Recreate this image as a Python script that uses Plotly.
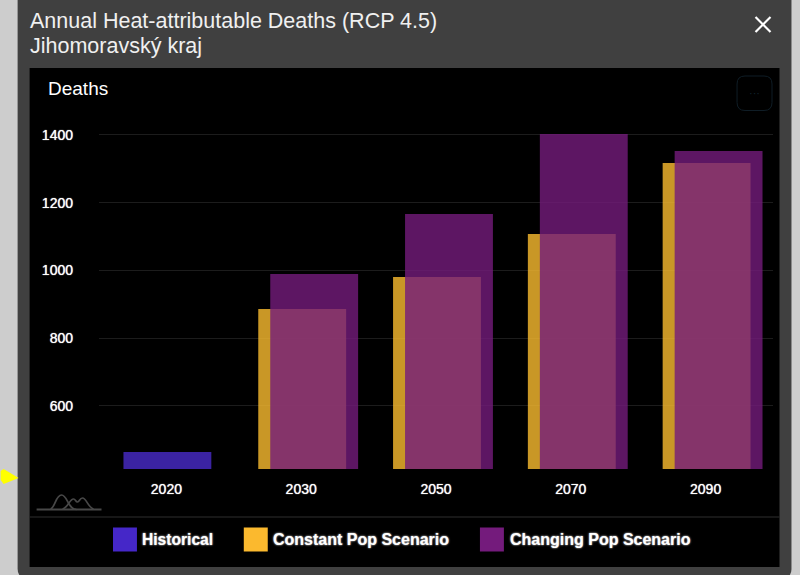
import plotly.graph_objects as go

categories = ["2020", "2030", "2050", "2070", "2090"]
historical = [464, None, None, None, None]
constant_pop = [None, 886, 981, 1108, 1317]
changing_pop = [None, 990, 1167, 1403, 1353]
y_ticks = [600, 800, 1000, 1200, 1400]

W, H = 800, 575
L, R, T, B = 98.5, 773.5, 115, 469
FONT = "Liberation Sans, Arial, sans-serif"


def fx(p):
    return (p - L) / (R - L)


def fy(p):
    return (B - p) / (B - T)


def rect(x0, y0, x1, y1, fill, line=None, lw=0):
    return dict(type="rect", xref="paper", yref="paper", layer="below",
                x0=fx(x0), x1=fx(x1), y0=fy(y1), y1=fy(y0),
                fillcolor=fill, line=dict(color=line or fill, width=lw))


def rounded(x0, y0, x1, y1, r):
    a, b, c, d = fx(x0), fx(x1), fy(y0), fy(y1)
    rx, ry = r / (R - L), r / (B - T)
    return (f"M{a+rx},{c} L{b-rx},{c} Q{b},{c} {b},{c-ry} L{b},{d+ry} Q{b},{d} {b-rx},{d} "
            f"L{a+rx},{d} Q{a},{d} {a},{d+ry} L{a},{c-ry} Q{a},{c} {a+rx},{c} Z")


def poly(points, close=False):
    s = "M" + " L".join(f"{fx(x)},{fy(y)}" for x, y in points)
    return s + (" Z" if close else "")


def curve(start, *segments):
    s = f"M{fx(start[0])},{fy(start[1])}"
    for seg in segments:
        s += " C" + " ".join(f"{fx(x)},{fy(y)}" for x, y in seg)
    return s


def text(x, y, s, size, anchor="left", weight=None, shadow=None, color="#ffffff"):
    font = dict(family=FONT, size=size, color=color)
    if weight:
        font["weight"] = weight
    if shadow:
        font["shadow"] = shadow
    return dict(xref="paper", yref="paper", x=fx(x), y=fy(y), text=s, showarrow=False,
                xanchor=anchor, yanchor="middle", font=font, align="left", borderpad=0)


fig = go.Figure()
BW = 88 / 135
fig.add_bar(x=categories, y=historical, name="Historical",
            marker=dict(color="#4a2ccb", opacity=0.8, line=dict(width=0)), width=BW, offset=-43 / 135)
fig.add_bar(x=categories, y=constant_pop, name="Constant Pop Scenario",
            marker=dict(color="#fbbd30", opacity=0.8, line=dict(width=0)), width=BW, offset=-43 / 135)
fig.add_bar(x=categories, y=changing_pop, name="Changing Pop Scenario",
            marker=dict(color="#741b7c", opacity=0.8, line=dict(width=0)), width=BW, offset=-31 / 135)

LOGO = "#484848"
shapes = [
    dict(type="path", xref="paper", yref="paper", layer="below", path=rounded(17, -12, 792, 578, 9),
         fillcolor="#404040", line_width=0),
    rect(29, 68, 780, 567, "#000000"),
    rect(29, 516.5, 780, 517.5, "#2f2f2f"),
    rect(112.5, 527.5, 136.5, 551.5, "#4527c8"),
    rect(243.5, 527.5, 267.5, 551.5, "#fbb92e"),
    rect(480, 527.5, 504, 551.5, "#741b7c"),
    dict(type="path", xref="paper", yref="paper", path=rounded(737.5, 76, 772.5, 110.5, 8),
         fillcolor="rgba(0,0,0,0)", line=dict(color="#0f1d26", width=1), layer="below"),
    dict(type="path", xref="paper", yref="paper", layer="above",
         path=poly([(756, 17), (771, 32)]), line=dict(color="#ffffff", width=2.2)),
    dict(type="path", xref="paper", yref="paper", layer="above",
         path=poly([(771, 17), (756, 32)]), line=dict(color="#ffffff", width=2.2)),
    dict(type="path", xref="paper", yref="paper", layer="above",
         path=poly([(0, 471), (3, 469), (18, 478), (3, 484), (0, 480)], True), fillcolor="#ffff00", line_width=0),
    dict(type="path", xref="paper", yref="paper", layer="below",
         path=poly([(36, 509.5), (101, 509.5)]), line=dict(color=LOGO, width=2)),
    dict(type="path", xref="paper", yref="paper", layer="below",
         path=curve((50, 509), [(55, 507), (55, 495), (61, 495)], [(67, 495), (67, 509), (76, 509.5)]),
         fillcolor="rgba(0,0,0,0)", line=dict(color=LOGO, width=1.7)),
    dict(type="path", xref="paper", yref="paper", layer="below",
         path=curve((62, 509), [(68, 507), (69, 499), (73, 499)], [(75, 499), (75, 502), (77, 502)],
                    [(79, 502), (79, 498), (82, 498)], [(86, 498), (87, 507), (93, 509)]),
         fillcolor="rgba(0,0,0,0)", line=dict(color=LOGO, width=1.7)),
]

annotations = [
    text(29, 21, "Annual Heat-attributable Deaths (RCP 4.5)", 21.5, color="#f0f0f0"),
    text(29, 46, "Jihomoravský kraj", 21.5, color="#f0f0f0"),
    text(47, 88, "Deaths", 19),
    text(755, 93, "···", 11, anchor="center", color="#10242f"),
    text(142, 539, "Historical", 15.6, weight=700, shadow="0 0 2px #ffffff"),
    text(273, 539, "Constant Pop Scenario", 16, weight=700, shadow="0 0 2px #ffffff"),
    text(510, 539, "Changing Pop Scenario", 16, weight=700, shadow="0 0 2px #ffffff"),
]
for a in annotations:
    a["xshift"] = -1 if a["xanchor"] == "left" else 0

fig.update_layout(
    width=W, height=H, autosize=False,
    margin=dict(l=L, r=W - R, t=T, b=H - B, pad=0),
    paper_bgcolor="#cdcdcd", plot_bgcolor="rgba(0,0,0,0)",
    barmode="overlay", showlegend=False,
    shapes=shapes, annotations=annotations,
    font=dict(family=FONT, color="#ffffff"),
    xaxis=dict(type="category", categoryorder="array", categoryarray=categories, range=[-0.5, 4.5],
               showgrid=False, zeroline=False, showline=False, ticks="", ticklabelstandoff=10,
               tickfont=dict(size=14, family=FONT, color="#ffffff", shadow="0 0 1px #ffffff")),
    yaxis=dict(range=[414, 1459], tickvals=y_ticks, showgrid=True, gridcolor="#1c1c1c", gridwidth=1,
               zeroline=False, showline=False, ticks="", ticklabelstandoff=25,
               tickfont=dict(size=14, family=FONT, color="#ffffff", shadow="0 0 1px #ffffff")),
)

fig.write_html("out.html", config=dict(displayModeBar=False),
               post_script="document.body.style.margin='0';document.body.style.overflow='hidden';document.documentElement.style.overflow='hidden';")
